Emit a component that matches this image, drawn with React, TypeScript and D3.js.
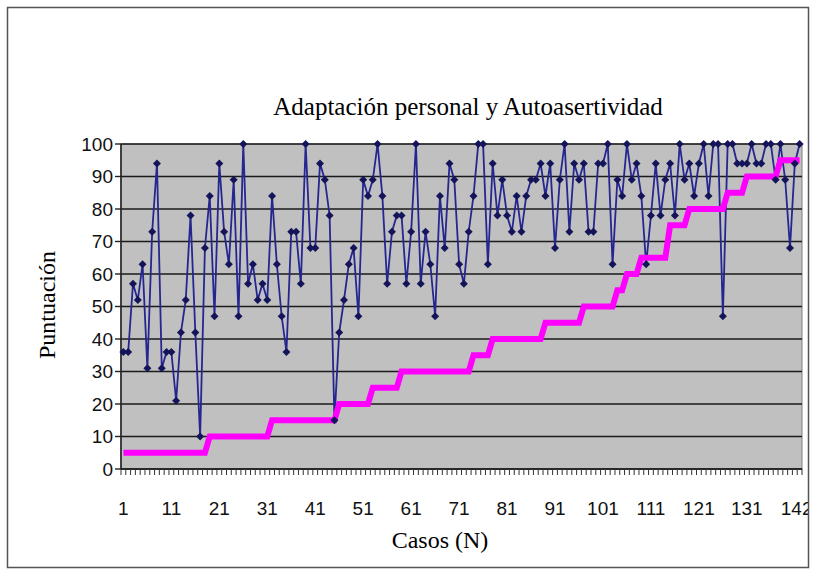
import React from 'react';
import * as d3 from 'd3';

const cases: number[] = d3.range(1, 143);

const adaptacionPersonal: number[] = [
  36, 36, 57, 52, 63, 31, 73, 94, 31, 36,
  36, 21, 42, 52, 78, 42, 10, 68, 84, 47,
  94, 73, 63, 89, 47, 100, 57, 63, 52, 57,
  52, 84, 63, 47, 36, 73, 73, 57, 100, 68,
  68, 94, 89, 78, 15, 42, 52, 63, 68, 47,
  89, 84, 89, 100, 84, 57, 73, 78, 78, 57,
  73, 100, 57, 73, 63, 47, 84, 68, 94, 89,
  63, 57, 73, 84, 100, 100, 63, 94, 78, 89,
  78, 73, 84, 73, 84, 89, 89, 94, 84, 94,
  68, 89, 100, 73, 94, 89, 94, 73, 73, 94,
  94, 100, 63, 89, 84, 100, 89, 94, 84, 63,
  78, 94, 78, 89, 94, 78, 100, 89, 94, 84,
  94, 100, 84, 100, 100, 47, 100, 100, 94, 94,
  94, 100, 94, 94, 100, 100, 89, 100, 89, 68,
  94, 100,
];

const autoasertividad: number[] = [
  5, 5, 5, 5, 5, 5, 5, 5, 5, 5,
  5, 5, 5, 5, 5, 5, 5, 5, 10, 10,
  10, 10, 10, 10, 10, 10, 10, 10, 10, 10,
  10, 15, 15, 15, 15, 15, 15, 15, 15, 15,
  15, 15, 15, 15, 15, 20, 20, 20, 20, 20,
  20, 20, 25, 25, 25, 25, 25, 25, 30, 30,
  30, 30, 30, 30, 30, 30, 30, 30, 30, 30,
  30, 30, 30, 35, 35, 35, 35, 40, 40, 40,
  40, 40, 40, 40, 40, 40, 40, 40, 45, 45,
  45, 45, 45, 45, 45, 45, 50, 50, 50, 50,
  50, 50, 50, 55, 55, 60, 60, 60, 65, 65,
  65, 65, 65, 65, 75, 75, 75, 75, 80, 80,
  80, 80, 80, 80, 80, 80, 85, 85, 85, 85,
  90, 90, 90, 90, 90, 90, 90, 95, 95, 95,
  95, 95,
];

const yTicks: number[] = [0, 10, 20, 30, 40, 50, 60, 70, 80, 90, 100];
const xTickLabels: number[] = [1, 11, 21, 31, 41, 51, 61, 71, 81, 91, 101, 111, 121, 131, 142];

const title = 'Adaptación personal y Autoasertividad';
const yTitle = 'Puntuación';
const xTitle = 'Casos (N)';

export default function App() {
  const W = 814;
  const H = 573;
  const left = 121, right = 802, top = 144, bottom = 469;

  const x = d3.scaleBand<number>().domain(cases).range([left, right]).padding(0);
  const y = d3.scaleLinear().domain([0, 100]).range([bottom, top]);
  const cx = (c: number) => (x(c) as number) + x.bandwidth() / 2;

  const line = d3
    .line<number>()
    .x((_, i) => cx(cases[i]))
    .y((d) => y(d));

  const serifStyle = { fontFamily: "'Liberation Serif', 'Times New Roman', 'DejaVu Serif', serif" };
  const sansStyle = { fontFamily: "'Liberation Sans', Arial, sans-serif" };

  const tickBounds = [...cases.map((c) => x(c) as number), right];

  return (
    <svg
      width={W}
      height={H}
      viewBox={`0 0 ${W} ${H}`}
      style={{ position: 'absolute', left: 0, top: 0, display: 'block', background: '#fff' }}
    >
      <defs>
        <clipPath id="frameClip">
          <rect x={8} y={8} width={801} height={559} />
        </clipPath>
      </defs>
      <rect x={0} y={0} width={W} height={H} fill="#fff" />
      <g clipPath="url(#frameClip)">
        <text x={468} y={115} textAnchor="middle" style={serifStyle} fontSize={25} fill="#000">
          {title}
        </text>

        <rect x={left} y={top} width={right - left} height={bottom - top} fill="#C0C0C0" stroke="#808080" strokeWidth={1} />

        {yTicks.map((t) => (
          <line key={'g' + t} x1={left} x2={right} y1={y(t)} y2={y(t)} stroke="#1a1a1a" strokeWidth={1.6} />
        ))}

        <line x1={left} x2={left} y1={top} y2={bottom} stroke="#222" strokeWidth={1.6} />
        {yTicks.map((t) => (
          <g key={'yt' + t}>
            <line x1={left - 6} x2={left} y1={y(t)} y2={y(t)} stroke="#222" strokeWidth={1.4} />
            <text x={113} y={y(t)} dy="0.35em" textAnchor="end" style={sansStyle} fontSize={19} fill="#111">
              {t}
            </text>
          </g>
        ))}

        <line x1={left} x2={right} y1={bottom} y2={bottom} stroke="#222" strokeWidth={1.6} />
        {tickBounds.map((b, i) => (
          <line key={'xt' + i} x1={b} x2={b} y1={bottom} y2={bottom + 6} stroke="#333" strokeWidth={1} />
        ))}
        {xTickLabels.map((c) => (
          <text key={'xl' + c} x={c === 142 ? cx(c) - 3 : cx(c)} y={515} textAnchor="middle" style={sansStyle} fontSize={19} fill="#111">
            {c}
          </text>
        ))}

        <path d={line(adaptacionPersonal) || ''} fill="none" stroke="#262690" strokeWidth={1.8} />
        <path d={line(autoasertividad) || ''} fill="none" stroke="#FF00FF" strokeWidth={6} />
        {adaptacionPersonal.map((v, i) => {
          const px = cx(cases[i]);
          const py = y(v);
          const r = 4;
          return (
            <path
              key={'m' + i}
              d={`M${px},${py - r}L${px + r},${py}L${px},${py + r}L${px - r},${py}Z`}
              fill="#14145a"
            />
          );
        })}

        <text x={440} y={548} textAnchor="middle" style={serifStyle} fontSize={24} fill="#000">
          {xTitle}
        </text>
        <text transform={`translate(55,305) rotate(-90)`} textAnchor="middle" style={serifStyle} fontSize={24} fill="#000">
          {yTitle}
        </text>
      </g>
      <rect x={7.5} y={7.5} width={801} height={560} fill="none" stroke="#555" strokeWidth={1.5} />
    </svg>
  );
}
